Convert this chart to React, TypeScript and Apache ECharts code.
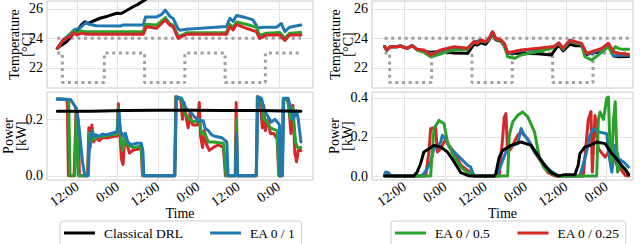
import React, { useEffect, useRef } from 'react';
import * as echarts from 'echarts';

// ---------- data (time in hours since the start of the run, 6:00) ----------
const TIME_TICKS = [6, 18, 30, 42, 54, 66];
const TIME_LABELS = ['12:00', '0:00', '12:00', '0:00', '12:00', '0:00'];
const TEMP_TICKS = [22, 24, 26];
const POWER_TICKS_LEFT = [0, 0.2];
const POWER_TICKS_RIGHT = [0, 0.2, 0.4];

const SETPOINT_UPPER = [[0, 24], [72.6, 24]];
const SETPOINT_LOWER = [[0, 23], [1.5, 21], [14, 23], [26, 21], [38, 23], [50, 21], [62, 23], [72.6, 23]];

// top-left temperature
const TL_BLACK = [[0, 23.32], [1, 23.5], [2.8, 23.77], [4.8, 24.34], [5.8, 24.45], [7.3, 24.95], [8.2, 25.12], [9.0, 25.0], [10, 25.1], [12.7, 25.36], [15, 25.5], [17.7, 25.7], [19, 25.68], [20, 25.8], [22.6, 26.14], [24, 26.3], [26.1, 26.6], [28, 26.9]];
const TL_BLUE = [[0, 23.32], [1.8, 23.9], [3.8, 24.3], [5.2, 24.6], [6.5, 24.65], [8.7, 25.1], [9.5, 24.95], [11.7, 24.85], [18.7, 24.83], [19.6, 24.9], [25.6, 24.9], [26.3, 25.45], [29.6, 25.45], [31, 25.6], [32.2, 25.92], [33.5, 25.5], [34.5, 25.35], [36, 24.65], [36.5, 24.55], [38.5, 24.62], [45, 24.72], [50.4, 24.8], [51.4, 25.35], [52.4, 25.15], [53.4, 25.55], [55.4, 25.45], [58.3, 25.25], [59.8, 24.7], [61.3, 24.75], [65.3, 24.75], [66.8, 25.0], [67.8, 24.45], [69.2, 24.75], [72.6, 24.9]];
const TL_GREEN = [[0, 23.32], [1.8, 23.9], [3.8, 24.2], [4.8, 24.5], [5.75, 24.35], [7.2, 24.5], [8.7, 24.45], [25.6, 24.45], [26.3, 24.95], [29.6, 24.9], [32.2, 25.4], [33.5, 25.0], [34.5, 24.9], [36, 24.15], [37, 24.2], [38.5, 24.38], [50.4, 24.4], [51.4, 24.95], [52.4, 24.75], [53.4, 25.1], [56.3, 24.95], [59.3, 24.75], [60.3, 24.2], [62.3, 24.35], [66.3, 24.4], [67.8, 24.0], [69.2, 24.35], [72.6, 24.4]];
const TL_RED = [[0, 23.32], [1.8, 23.89], [3.8, 24.11], [4.8, 24.38], [5.75, 24.22], [7.2, 24.35], [8.7, 24.27], [25.6, 24.27], [26.6, 24.79], [29.6, 24.68], [32.2, 25.24], [33.5, 24.9], [34.5, 24.79], [36, 24.0], [37, 24.11], [38.5, 24.27], [50.4, 24.27], [51.4, 24.79], [52.4, 24.56], [53.4, 24.95], [56.3, 24.68], [59.3, 24.45], [60.3, 24.0], [62.3, 24.22], [66.3, 24.22], [67.8, 23.85], [69.2, 24.22], [72.6, 24.22]];

// bottom-left power
const BL_BLACK = [[0, 0.229], [10, 0.229], [20, 0.231], [30, 0.232], [40, 0.232], [50, 0.231], [60, 0.231], [72.6, 0.229]];
const BL_BLUE = [[0, 0.272], [4, 0.27], [4.8, 0.255], [5.6, 0.24], [6.5, 0.17], [7.5, 0.05], [8.2, 0], [9.2, 0], [9.6, 0.11], [10.2, 0.155], [10.8, 0.14], [11.5, 0.145], [12.5, 0.14], [13.5, 0.148], [14.5, 0.145], [16, 0.15], [17.5, 0.155], [18, 0.16], [18.3, 0.225], [18.8, 0.16], [19.6, 0.14], [20.3, 0.15], [21, 0.12], [22, 0.11], [23.5, 0.115], [25, 0.115], [25.5, 0.09], [25.8, 0], [35, 0], [35.5, 0.28], [37, 0.275], [38.3, 0.24], [39.8, 0.225], [40.8, 0.21], [42.3, 0.195], [43.5, 0.195], [44, 0.17], [45, 0.16], [46, 0.145], [47, 0.14], [49, 0.135], [50.5, 0.12], [50.9, 0], [53.1, 0], [53.4, 0.15], [53.7, 0], [59.3, 0], [59.8, 0.28], [60.8, 0.275], [61.8, 0.23], [62.8, 0.21], [63.8, 0.19], [64.8, 0.2], [65.6, 0.19], [66.2, 0.18], [66.4, 0], [67.1, 0], [67.5, 0.275], [68.8, 0.275], [69.8, 0.23], [70.3, 0.2], [71.3, 0.23], [71.8, 0.2], [72.6, 0.12]];
const BL_GREEN = [[0, 0.272], [3.4, 0.27], [3.8, 0], [5.2, 0], [5.7, 0.24], [6.3, 0], [9.1, 0], [9.5, 0.15], [10, 0.12], [10.5, 0.16], [11, 0.13], [12, 0.14], [14, 0.14], [16, 0.145], [17.8, 0.148], [18.2, 0.24], [18.8, 0.15], [19.4, 0.09], [20.2, 0.14], [21, 0.11], [22.5, 0.1], [25, 0.105], [25.5, 0], [35, 0], [35.4, 0.28], [37, 0.27], [38, 0.22], [39.5, 0.2], [40.5, 0.19], [42.3, 0.2], [43, 0.15], [44, 0.15], [45, 0.12], [46.5, 0.12], [49.5, 0.115], [50.3, 0], [53.1, 0], [53.4, 0.2], [53.7, 0], [59.3, 0], [59.7, 0.28], [60.8, 0.27], [61.5, 0.2], [62.5, 0.19], [63.5, 0.17], [65.5, 0.16], [66.1, 0], [67, 0], [67.4, 0.275], [68.6, 0.27], [69.5, 0.2], [70.2, 0.24], [71, 0.12], [71.6, 0.1], [72.6, 0.1]];
const BL_RED = [[0, 0.272], [2.6, 0.27], [3.0, 0.26], [3.3, 0], [5.0, 0], [5.6, 0.24], [6.2, 0.2], [6.6, 0], [9.0, 0], [9.4, 0.17], [9.8, 0.1], [10.3, 0.18], [10.8, 0.12], [11.5, 0.135], [12.5, 0.125], [13.5, 0.135], [15, 0.135], [17, 0.14], [17.8, 0.14], [18.2, 0.255], [18.7, 0.14], [19.1, 0.06], [19.6, 0.04], [20.2, 0.15], [20.8, 0.11], [21.5, 0.08], [22.5, 0.09], [24, 0.095], [25, 0.095], [25.4, 0], [35, 0], [35.3, 0.28], [36.8, 0.27], [37.3, 0.2], [37.8, 0.26], [38.5, 0.2], [39, 0.17], [39.5, 0.22], [40.3, 0.18], [41.8, 0.18], [42.3, 0.26], [42.7, 0.14], [43.3, 0.1], [43.8, 0.16], [44.5, 0.11], [45.3, 0.09], [46.5, 0.1], [48, 0.11], [49.5, 0.1], [50.1, 0], [53, 0], [53.3, 0.26], [53.6, 0], [59.3, 0], [59.6, 0.28], [60.5, 0.26], [61.1, 0.17], [61.5, 0.25], [62, 0.16], [62.8, 0.2], [63.5, 0.15], [64.5, 0.15], [65.5, 0.13], [66, 0], [67, 0], [67.3, 0.27], [68.5, 0.27], [69, 0.25], [69.6, 0.15], [70.2, 0.25], [70.8, 0.08], [71.3, 0.05], [71.8, 0.09], [72.6, 0.09]];

// top-right temperature
const TR_BLACK = [[0, 23.44], [0.7, 23.2], [1.7, 23.43], [3.7, 23.43], [4.7, 23.48], [6.7, 23.32], [8.2, 23.5], [9.7, 23.25], [11.7, 23.1], [13.7, 23.05], [16.7, 23.1], [20.7, 23.0], [24.7, 22.98], [26.6, 23.6], [27.6, 23.55], [28.6, 23.7], [30.1, 23.6], [31.1, 23.9], [32.1, 24.4], [33.1, 23.9], [34.6, 23.8], [35.6, 23.5], [36.6, 22.98], [38.1, 23.0], [40.6, 22.98], [45.6, 22.95], [49.6, 22.87], [51.8, 23.55], [53.1, 23.15], [55.1, 23.6], [56.6, 23.5], [58.6, 23.5], [60.1, 22.9], [61.6, 23.0], [64.6, 23.1], [66.6, 23.55], [68.1, 22.8], [69.6, 22.75], [72.6, 22.76]];
const TR_BLUE = [[0, 23.44], [0.7, 23.2], [1.7, 23.43], [3.7, 23.43], [4.7, 23.48], [6.7, 23.32], [8.2, 23.5], [9.7, 23.25], [11.7, 23.15], [13.7, 22.95], [16.7, 23.1], [20.7, 23.3], [24.7, 23.3], [26.6, 23.75], [28.6, 23.85], [30.1, 23.75], [31.1, 23.95], [32.1, 24.4], [33.1, 24.0], [34.6, 23.85], [35.6, 23.6], [36.6, 23.0], [38.1, 23.05], [40.6, 23.15], [45.6, 23.25], [49.6, 23.35], [51.8, 23.66], [53.1, 23.3], [55.1, 23.85], [56.6, 23.75], [58.6, 23.6], [60.1, 22.95], [61.6, 23.0], [64.6, 23.25], [66.6, 23.6], [68.1, 22.8], [69.6, 22.85], [72.6, 22.85]];
const TR_GREEN = [[0, 23.44], [0.7, 23.2], [1.7, 23.43], [3.7, 23.43], [4.7, 23.48], [6.7, 23.32], [8.2, 23.5], [9.7, 23.2], [11.7, 23.05], [13.7, 22.75], [15.7, 22.87], [18.7, 23.1], [20.7, 23.2], [24.7, 23.25], [26.6, 23.75], [27.6, 23.66], [28.6, 23.85], [30.1, 23.75], [31.1, 23.95], [32.1, 24.4], [33.1, 23.95], [34.6, 23.85], [35.6, 23.5], [36.6, 22.75], [38.6, 22.64], [40.6, 22.87], [45.6, 23.1], [49.6, 23.3], [51.8, 23.66], [53.1, 23.25], [55.1, 23.8], [56.6, 23.7], [58.6, 23.6], [59.6, 22.75], [61.6, 22.53], [63.6, 22.87], [66.6, 23.43], [67.6, 23.0], [68.6, 23.43], [69.6, 23.32], [70.6, 23.25], [72.6, 23.25]];
const TR_RED = [[0, 23.44], [0.7, 23.2], [1.7, 23.43], [3.7, 23.43], [4.7, 23.48], [6.7, 23.32], [8.2, 23.5], [9.7, 23.25], [11.7, 23.21], [13.7, 22.87], [16.7, 23.21], [20.7, 23.43], [24.7, 23.32], [26.6, 23.78], [27.6, 23.66], [28.6, 23.89], [30.1, 23.77], [31.1, 24.0], [32.1, 24.45], [33.1, 24.0], [34.6, 23.89], [35.6, 23.66], [36.6, 23.03], [38.1, 23.09], [40.6, 23.21], [45.6, 23.32], [49.6, 23.43], [50.6, 23.43], [51.8, 23.7], [53.1, 23.32], [55.1, 23.87], [56.6, 23.77], [58.6, 23.66], [60.1, 22.98], [61.6, 23.09], [64.6, 23.32], [66.6, 23.66], [68.1, 23.09], [69.6, 22.98], [72.6, 22.92]];

// bottom-right power
const BR_BLACK = [[0, 0], [8.7, 0], [9.7, 0.02], [10.7, 0.063], [11.7, 0.123], [13.2, 0.14], [14.7, 0.157], [16.7, 0.149], [18.7, 0.123], [20.7, 0.072], [22.7, 0.017], [24.7, 0.003], [25.6, 0], [32.6, 0], [33.1, 0.012], [34.1, 0.097], [35.1, 0.13], [37.6, 0.157], [40.6, 0.174], [43.6, 0.157], [45.6, 0.106], [47.6, 0.055], [49.6, 0.017], [51.6, 0], [53.6, 0.007], [56.6, 0.007], [57.6, 0.055], [58.1, 0.115], [59.6, 0.149], [61.1, 0.157], [63.1, 0.174], [65.6, 0.166], [67.6, 0.115], [68.6, 0.097], [70.1, 0.063], [72.1, 0.02], [72.6, 0.007]];
const BR_BLUE = [[0, 0.005], [0.3, 0.02], [1.2, 0.017], [1.7, 0], [10.7, 0], [11.7, 0.012], [12.7, 0.038], [13.7, 0.072], [14.7, 0.14], [15.7, 0.149], [16.7, 0.174], [17.2, 0.209], [18.2, 0.19], [19.2, 0.149], [20.7, 0.123], [22.7, 0.089], [24.7, 0.055], [25.6, 0.046], [26.2, 0.017], [26.7, 0], [33.1, 0], [34.6, 0.055], [36.1, 0.123], [37.1, 0.149], [38.1, 0.157], [39.6, 0.166], [40.6, 0.243], [41.6, 0.209], [43.1, 0.174], [44.6, 0.123], [46.6, 0.081], [48.6, 0.038], [50.6, 0.012], [52, 0], [58.1, 0], [60.1, 0.123], [61.1, 0.209], [62.1, 0.243], [63.6, 0.226], [66.1, 0.217], [66.6, 0.123], [67.6, 0.02], [68.6, 0.157], [69.6, 0.089], [71.1, 0.072], [72.6, 0.046]];
const BR_GREEN = [[0, 0], [13.7, 0], [14.2, 0.123], [14.7, 0.243], [16.2, 0.285], [17.7, 0.268], [18.7, 0.174], [20.7, 0.097], [22.7, 0.046], [24.7, 0.017], [26.7, 0], [36.6, 0], [37.1, 0.209], [38.1, 0.277], [39.6, 0.311], [41.1, 0.328], [42.6, 0.303], [44.6, 0.226], [46.1, 0.089], [47.6, 0.038], [49.6, 0.012], [51.6, 0], [63.1, 0], [63.6, 0.29], [64.1, 0.328], [65.1, 0.29], [66.1, 0.4], [66.6, 0.405], [67.1, 0.123], [67.6, 0.072], [68.1, 0.29], [68.6, 0.38], [69.3, 0.02], [70.1, 0.055], [71.6, 0.038], [72.6, 0.007]];
const BR_RED = [[0, 0.005], [0.5, 0.017], [1.5, 0.005], [2.5, 0], [12.2, 0], [13.2, 0.123], [13.7, 0.243], [15.2, 0.25], [15.7, 0.123], [16.7, 0.14], [18.2, 0.19], [18.7, 0.166], [20.7, 0.123], [22.7, 0.055], [24.7, 0.029], [26.2, 0.012], [26.7, 0], [34.1, 0], [35.1, 0.19], [35.6, 0.3], [36.1, 0.32], [36.6, 0.123], [37.6, 0.14], [39.6, 0.209], [40.6, 0.226], [42.6, 0.19], [44.6, 0.123], [46.6, 0.072], [48.6, 0.017], [50.6, 0], [59.1, 0], [60.6, 0.29], [61.4, 0.33], [61.8, 0.02], [62.6, 0.31], [63.6, 0.14], [65.6, 0.097], [66.6, 0.123], [68.1, 0.123], [69.1, 0.055], [70.1, 0.038], [71.6, 0.003], [72.6, 0]];

const NAME_BLACK = 'Classical DRL';
const NAME_BLUE = 'EA 0 / 1';
const NAME_GREEN = 'EA 0 / 0.5';
const NAME_RED = 'EA 0 / 0.25';

const COLORS: Record<string, string> = {
  [NAME_BLACK]: '#000000',
  [NAME_BLUE]: '#1f77b4',
  [NAME_GREEN]: '#2ca02c',
  [NAME_RED]: '#d62728',
};

const FONT = 'Liberation Serif';

function fmtTime(v: number) {
  const i = TIME_TICKS.findIndex((t) => Math.abs(t - v) < 1e-6);
  return i >= 0 ? TIME_LABELS[i] : '';
}

export default function App() {
  const ref = useRef<HTMLDivElement>(null);
  useEffect(() => {
    if (!ref.current) return;
    const chart = echarts.init(ref.current, undefined, { renderer: 'svg' });

    const grids = [
      { left: 47, top: 1, width: 266, height: 87 },
      { left: 47, top: 92, width: 266, height: 88 },
      { left: 372, top: 1, width: 261, height: 87 },
      { left: 372, top: 92, width: 261, height: 88 },
    ].map((g) => ({ ...g, show: true, borderColor: '#c8c8c8', borderWidth: 1, backgroundColor: '#fff', containLabel: false }));

    const xRanges = [
      [-3.07, 76.2],
      [-3.07, 76.2],
      [-3.74, 73.9],
      [-3.74, 73.9],
    ];

    const xAxes = xRanges.map((r, i) => {
      const bottom = i === 1 || i === 3;
      return {
        type: 'value',
        gridIndex: i,
        min: r[0],
        max: r[1],
        axisLine: { show: false },
        axisTick: { show: false, customValues: TIME_TICKS },
        axisLabel: {
          show: bottom,
          customValues: TIME_TICKS,
          formatter: fmtTime,
          rotate: 35,
          margin: 5,
          fontFamily: FONT,
          fontSize: 14,
          color: '#000',
        },
        splitLine: { show: true, lineStyle: { color: '#e3e3e3', width: 1 } },
        name: bottom ? 'Time' : '',
        nameLocation: 'middle',
        nameGap: 26,
        nameMoveOverlap: false,
        nameTextStyle: { fontFamily: FONT, fontSize: 14, color: '#000' },
      };
    });

    const yDefs = [
      { min: 20.63, max: 26.53, ticks: TEMP_TICKS, name: 'Temperature\n[°C]', gap: 13, dec: 0 },
      { min: -0.015, max: 0.297, ticks: POWER_TICKS_LEFT, name: 'Power\n[kW]', gap: 19, dec: 1 },
      { min: 20.63, max: 26.53, ticks: TEMP_TICKS, name: 'Temperature\n[°C]', gap: 17, dec: 0 },
      { min: -0.0205, max: 0.4305, ticks: POWER_TICKS_RIGHT, name: 'Power\n[kW]', gap: 18, dec: 1 },
    ];
    const yAxes = yDefs.map((d, i) => ({
      type: 'value',
      gridIndex: i,
      min: d.min,
      max: d.max,
      axisLine: { show: false },
      axisTick: { show: false, customValues: d.ticks },
      axisLabel: {
        customValues: d.ticks,
        formatter: (v: number) => v.toFixed(d.dec),
        margin: 4,
        fontFamily: FONT,
        fontSize: 14,
        color: '#000',
      },
      splitLine: { show: true, lineStyle: { color: '#e3e3e3', width: 1 } },
      name: d.name,
      nameLocation: 'middle',
      nameRotate: 90,
      nameGap: d.gap,
      nameMoveOverlap: false,
      nameTextStyle: { fontFamily: FONT, fontSize: 14, lineHeight: 13, color: '#000' },
    }));

    const line = (name: string, data: number[][], grid: number, z: number) => ({
      type: 'line',
      name,
      data,
      xAxisIndex: grid,
      yAxisIndex: grid,
      showSymbol: false,
      symbol: 'none',
      clip: true,
      z,
      color: COLORS[name],
      lineStyle: { color: COLORS[name], width: 3, join: 'round', cap: 'round' },
    });

    const setpoint = (data: number[][], grid: number) => ({
      type: 'line',
      name: 'setpoint',
      data,
      step: 'end',
      xAxisIndex: grid,
      yAxisIndex: grid,
      showSymbol: false,
      symbol: 'none',
      z: 1,
      lineStyle: { color: '#a0a0a0', width: 3, type: [3, 3.7], cap: 'butt' },
    });

    const series = [
      setpoint(SETPOINT_UPPER, 0),
      setpoint(SETPOINT_LOWER, 0),
      line(NAME_BLACK, TL_BLACK, 0, 2),
      line(NAME_BLUE, TL_BLUE, 0, 3),
      line(NAME_GREEN, TL_GREEN, 0, 4),
      line(NAME_RED, TL_RED, 0, 5),

      line(NAME_RED, BL_RED, 1, 2),
      line(NAME_GREEN, BL_GREEN, 1, 3),
      line(NAME_BLUE, BL_BLUE, 1, 4),
      line(NAME_BLACK, BL_BLACK, 1, 5),

      setpoint(SETPOINT_UPPER, 2),
      setpoint(SETPOINT_LOWER, 2),
      line(NAME_BLACK, TR_BLACK, 2, 2),
      line(NAME_BLUE, TR_BLUE, 2, 3),
      line(NAME_GREEN, TR_GREEN, 2, 4),
      line(NAME_RED, TR_RED, 2, 5),

      line(NAME_RED, BR_RED, 3, 2),
      line(NAME_BLUE, BR_BLUE, 3, 3),
      line(NAME_GREEN, BR_GREEN, 3, 4),
      line(NAME_BLACK, BR_BLACK, 3, 5),
    ];

    const legendBase = {
      top: 221,
      orient: 'horizontal',
      icon: 'rect',
      itemWidth: 31,
      itemHeight: 3,
      itemGap: 27,
      padding: [5, 6, 6, 4],
      borderColor: '#cccccc',
      borderWidth: 1,
      borderRadius: 3,
      backgroundColor: '#fff',
      textStyle: { fontFamily: FONT, fontSize: 13.5, color: '#000', padding: [0, 0, 0, 4] },
      selectedMode: false,
    };

    chart.setOption({
      animation: false,
      backgroundColor: '#fff',
      textStyle: { fontFamily: FONT },
      grid: grids,
      xAxis: xAxes,
      yAxis: yAxes,
      legend: [
        { ...legendBase, left: 60, data: [NAME_BLACK, NAME_BLUE] },
        { ...legendBase, left: 391, data: [NAME_GREEN, NAME_RED] },
      ],
      series,
    });

    return () => chart.dispose();
  }, []);

  return <div ref={ref} style={{ position: 'fixed', left: 0, top: 0, width: 640, height: 244 }} />;
}
